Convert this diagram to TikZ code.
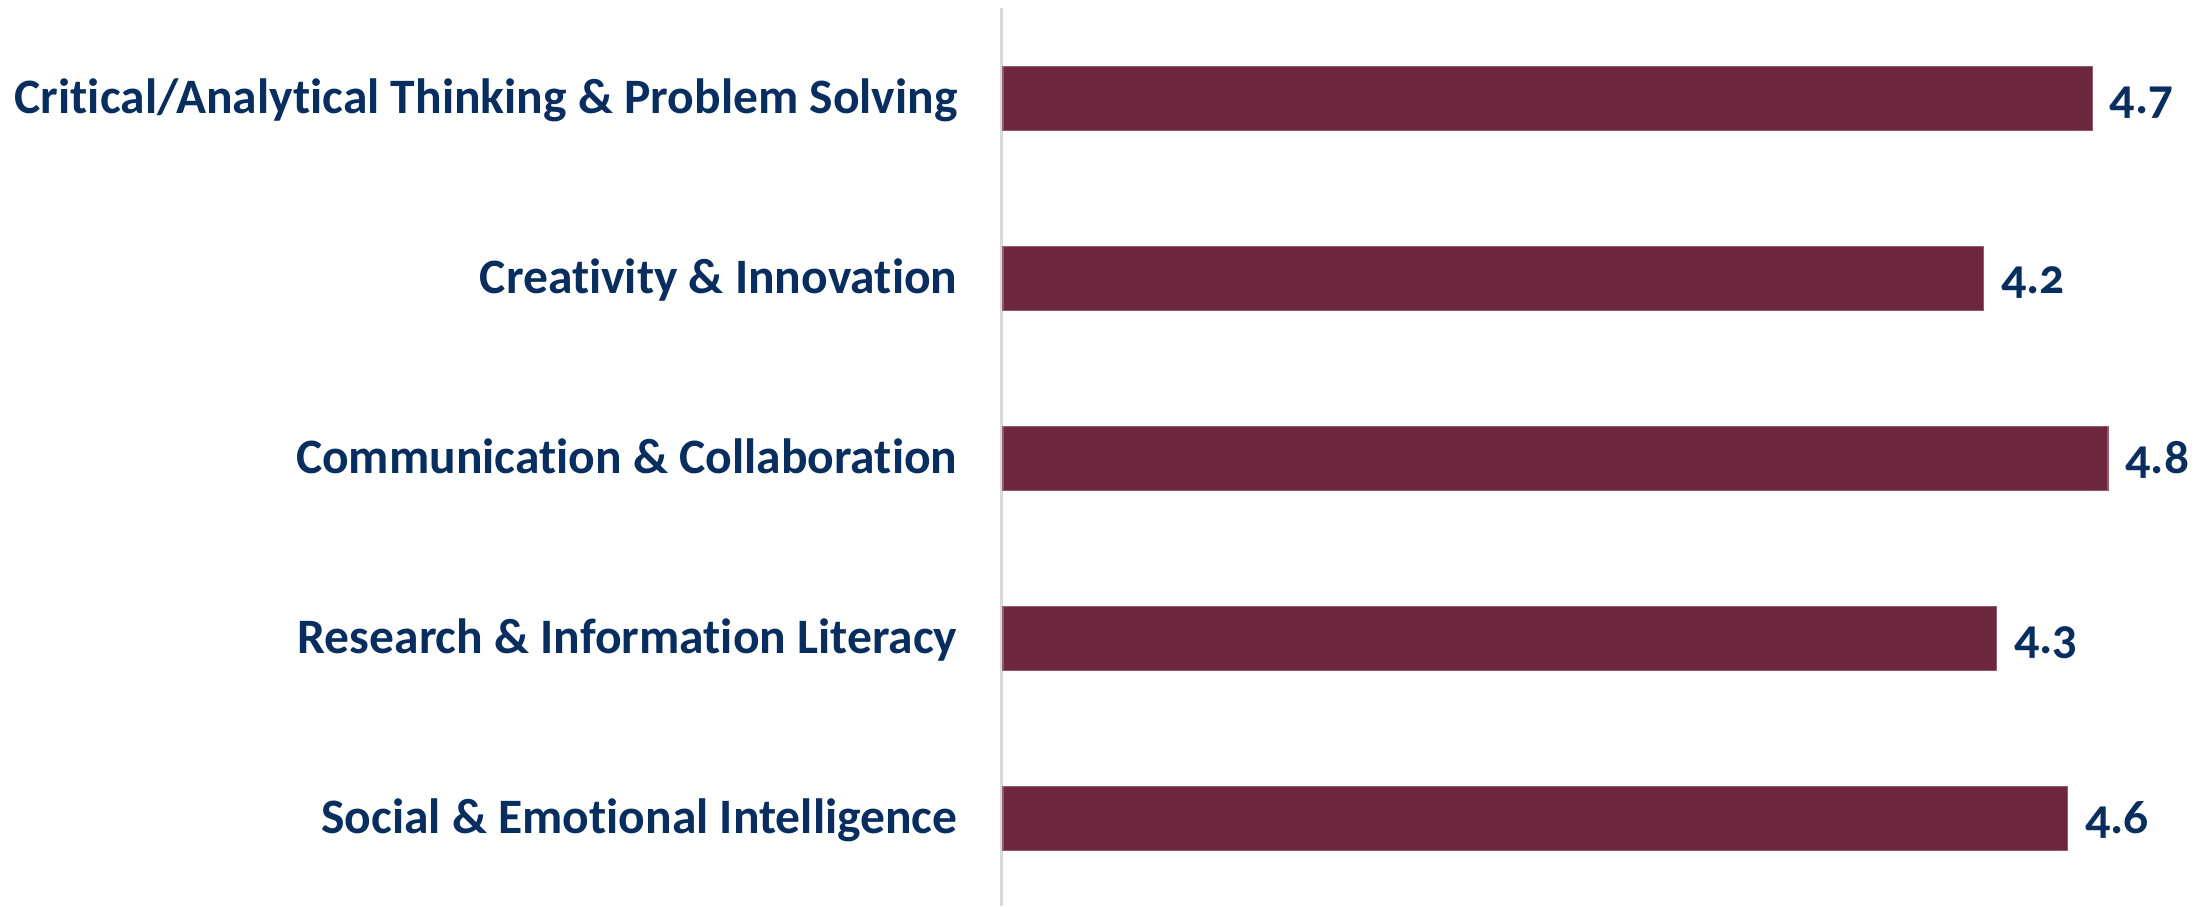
\documentclass[tikz,border=0pt]{standalone}
\usepackage{fontspec}
\setmainfont{Carlito}[Ligatures=NoCommon]
\newfontfamily\valfont{Carlito}[Ligatures=NoCommon,Numbers=OldStyle]
\usepackage{tikz}
\definecolor{barred}{RGB}{109,38,61}
\definecolor{labblue}{RGB}{8,46,96}
\definecolor{axgray}{RGB}{217,217,217}

\begin{document}
\begin{tikzpicture}
\tikzstyle{bar}=[rectangle,fill=barred,draw=barred!75!white,line width=0.3pt,anchor=west,minimum height=0.635cm,inner sep=0pt,outer sep=0pt]
\tikzstyle{cat}=[anchor=base east,inner sep=0pt,text=labblue,font=\fontsize{14.1}{17}\selectfont\bfseries]
\tikzstyle{val}=[anchor=base west,inner sep=0pt,text=labblue,font=\fontsize{14.1}{17}\selectfont\bfseries\valfont]
\useasboundingbox (0,0) rectangle (22.08,-9.06);
\coordinate (axtop) at (10.015,-0.08);
\coordinate (axbot) at (10.015,-9.06);
\draw [axgray,line width=0.7pt] (axtop) -- (axbot);
\node [bar,minimum width=10.892cm] (B1) at (10.03,-0.985) {};
\node [bar,minimum width=9.805cm] (B2) at (10.03,-2.785) {};
\node [bar,minimum width=11.05cm] (B3) at (10.03,-4.585) {};
\node [bar,minimum width=9.935cm] (B4) at (10.03,-6.385) {};
\node [bar,minimum width=10.645cm] (B5) at (10.03,-8.185) {};
\node [cat] (C1) at ([xshift=-0.45cm,yshift=-0.15cm]B1.west) {Critical/Analytical Thinking \& Problem Solving};
\node [cat] (C2) at ([xshift=-0.45cm,yshift=-0.15cm]B2.west) {Creativity \& Innovation};
\node [cat] (C3) at ([xshift=-0.45cm,yshift=-0.15cm]B3.west) {Communication \& Collaboration};
\node [cat] (C4) at ([xshift=-0.45cm,yshift=-0.15cm]B4.west) {Research \& Information Literacy};
\node [cat] (C5) at ([xshift=-0.45cm,yshift=-0.15cm]B5.west) {Social \& Emotional Intelligence};
\node [val] (V1) at ([xshift=0.17cm,yshift=-0.15cm]B1.east) {4.7};
\node [val] (V2) at ([xshift=0.17cm,yshift=-0.15cm]B2.east) {4.2};
\node [val] (V3) at ([xshift=0.17cm,yshift=-0.15cm]B3.east) {4.8};
\node [val] (V4) at ([xshift=0.17cm,yshift=-0.15cm]B4.east) {4.3};
\node [val] (V5) at ([xshift=0.17cm,yshift=-0.15cm]B5.east) {4.6};
\end{tikzpicture}
\end{document}
